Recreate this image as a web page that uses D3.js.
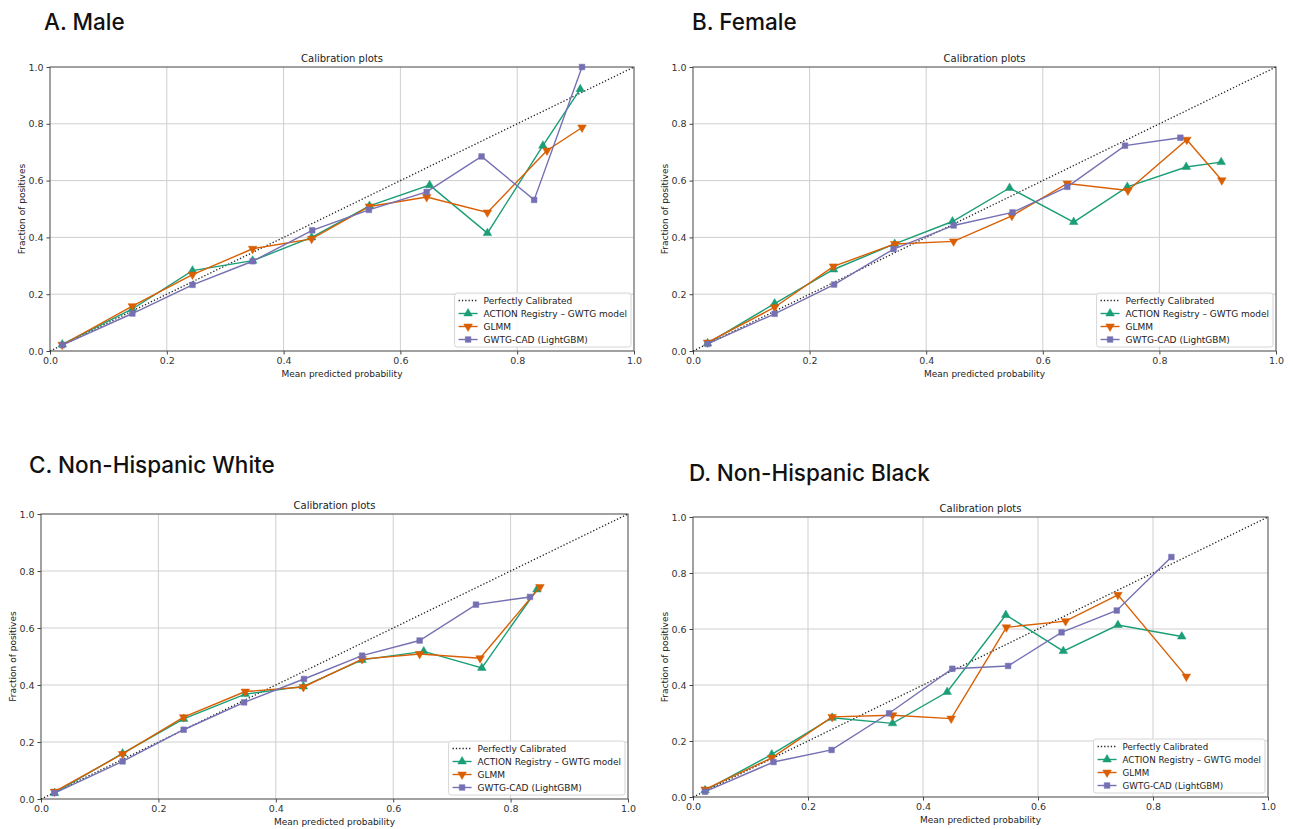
<!DOCTYPE html>
<html>
<head>
<meta charset="utf-8">
<script src="https://cdn.jsdelivr.net/npm/d3@7"></script>
<style>
  html, body { margin: 0; padding: 0; background: #fff; }
  svg { display: block; }
</style>
</head>
<body>
<svg id="chart" width="1293" height="829"></svg>
<script>
// ---------- data ----------
const panelTitles = ["A. Male", "B. Female", "C. Non-Hispanic White", "D. Non-Hispanic Black"];
const seriesNames = ["ACTION Registry – GWTG model", "GLMM", "GWTG-CAD (LightGBM)"];
const refName = "Perfectly Calibrated";
const ticks = [0.0, 0.2, 0.4, 0.6, 0.8, 1.0];

// Panel A: Male  [mean predicted, fraction positives]
const maleAction = [[0.021,0.023],[0.141,0.148],[0.244,0.283],[0.347,0.318],[0.448,0.400],[0.547,0.511],[0.650,0.584],[0.749,0.415],[0.844,0.723],[0.908,0.922]];
const maleGlmm   = [[0.021,0.022],[0.141,0.158],[0.244,0.269],[0.347,0.360],[0.448,0.395],[0.547,0.509],[0.645,0.542],[0.749,0.488],[0.851,0.706],[0.911,0.787]];
const maleGwtg   = [[0.021,0.021],[0.141,0.132],[0.244,0.233],[0.347,0.316],[0.449,0.425],[0.546,0.497],[0.645,0.560],[0.739,0.685],[0.829,0.532],[0.911,1.000]];

// Panel B: Female
const femaleAction = [[0.025,0.027],[0.140,0.167],[0.241,0.287],[0.346,0.377],[0.445,0.456],[0.543,0.574],[0.653,0.454],[0.745,0.578],[0.846,0.648],[0.906,0.665]];
const femaleGlmm   = [[0.025,0.030],[0.140,0.154],[0.241,0.298],[0.346,0.377],[0.447,0.386],[0.547,0.476],[0.642,0.590],[0.746,0.565],[0.847,0.744],[0.907,0.601]];
const femaleGwtg   = [[0.025,0.025],[0.140,0.131],[0.242,0.234],[0.344,0.359],[0.447,0.442],[0.548,0.488],[0.642,0.578],[0.741,0.723],[0.836,0.751]];

// Panel C: Non-Hispanic White
const whiteAction = [[0.023,0.021],[0.139,0.160],[0.243,0.281],[0.348,0.368],[0.447,0.395],[0.547,0.488],[0.652,0.518],[0.751,0.460],[0.845,0.735]];
const whiteGlmm   = [[0.023,0.026],[0.139,0.158],[0.243,0.287],[0.348,0.377],[0.447,0.393],[0.547,0.491],[0.645,0.509],[0.748,0.494],[0.850,0.744]];
const whiteGwtg   = [[0.023,0.021],[0.139,0.132],[0.243,0.243],[0.346,0.339],[0.448,0.421],[0.547,0.503],[0.645,0.556],[0.741,0.682],[0.833,0.709]];

// Panel D: Non-Hispanic Black
const blackAction = [[0.021,0.024],[0.137,0.152],[0.242,0.283],[0.347,0.263],[0.442,0.375],[0.544,0.650],[0.644,0.521],[0.739,0.614],[0.850,0.573]];
const blackGlmm   = [[0.021,0.027],[0.137,0.140],[0.242,0.286],[0.347,0.292],[0.449,0.280],[0.545,0.606],[0.648,0.628],[0.739,0.722],[0.858,0.430]];
const blackGwtg   = [[0.021,0.019],[0.140,0.125],[0.241,0.168],[0.341,0.299],[0.451,0.458],[0.548,0.468],[0.641,0.588],[0.737,0.666],[0.832,0.857]];

const panelData = [
  [maleAction, maleGlmm, maleGwtg],
  [femaleAction, femaleGlmm, femaleGwtg],
  [whiteAction, whiteGlmm, whiteGwtg],
  [blackAction, blackGlmm, blackGwtg]
];

// ---------- styles / layout ----------
const colors = ["#1b9e77", "#d95f02", "#7570b3"];
const markerTypes = ["up", "down", "square"];
const layouts = [
  { left: 50,  right: 634,  top: 67,  bottom: 351, tx: 44,  ty: 30,  lf: 9 },
  { left: 693, right: 1276, top: 67,  bottom: 351, tx: 692, ty: 30,  lf: 9 },
  { left: 41,  right: 628,  top: 514, bottom: 799, tx: 29,  ty: 473, lf: 9 },
  { left: 693, right: 1268, top: 517, bottom: 797, tx: 689, ty: 481, lf: 8.7 }
];
const tickFont = "DejaVu Sans, sans-serif";

const svg = d3.select("#chart");

function marker(sel, type, color) {
  if (type === "square") {
    sel.append("path").attr("d", d3.symbol(d3.symbolSquare, 32)())
      .attr("fill", color).attr("stroke", color).attr("stroke-width", 0.5);
  } else {
    const p = sel.append("path").attr("d", d3.symbol(d3.symbolTriangle, 32)())
      .attr("fill", color).attr("stroke", color).attr("stroke-width", 0.5);
    if (type === "down") p.attr("transform", "rotate(180)");
  }
}

panelTitles.forEach((title, pi) => {
  const L = layouts[pi];
  const x = d3.scaleLinear().domain([0, 1]).range([L.left, L.right]);
  const y = d3.scaleLinear().domain([0, 1]).range([L.bottom, L.top]);
  const g = svg.append("g");

  // panel heading
  g.append("text").attr("x", L.tx).attr("y", L.ty)
    .attr("font-family", "Inter, Roboto, sans-serif").attr("font-size", 22.5)
    .attr("font-weight", 500)
    .attr("fill", "#111").text(title);

  // grid
  const grid = g.append("g");
  grid.selectAll("line.v").data(ticks.slice(1, -1)).join("line")
    .attr("x1", d => x(d)).attr("x2", d => x(d)).attr("y1", L.top).attr("y2", L.bottom)
    .attr("stroke", "#cfcfcf").attr("stroke-width", 1);
  grid.selectAll("line.h").data(ticks.slice(1, -1)).join("line")
    .attr("y1", d => y(d)).attr("y2", d => y(d)).attr("x1", L.left).attr("x2", L.right)
    .attr("stroke", "#cfcfcf").attr("stroke-width", 1);

  // axes
  const xAxis = d3.axisBottom(x).tickValues(ticks).tickFormat(d3.format(".1f")).tickSize(3.5).tickPadding(3);
  const yAxis = d3.axisLeft(y).tickValues(ticks).tickFormat(d3.format(".1f")).tickSize(3.5).tickPadding(3);
  const gx = g.append("g").attr("transform", `translate(0,${L.bottom})`).call(xAxis);
  const gy = g.append("g").attr("transform", `translate(${L.left},0)`).call(yAxis);
  [gx, gy].forEach(a => {
    a.select(".domain").remove();
    a.selectAll(".tick line").attr("stroke", "#444");
    a.selectAll(".tick text").attr("font-family", tickFont).attr("font-size", 9.5).attr("fill", "#333");
  });

  // frame
  g.append("rect").attr("x", L.left).attr("y", L.top)
    .attr("width", L.right - L.left).attr("height", L.bottom - L.top)
    .attr("fill", "none").attr("stroke", "#555").attr("stroke-width", 1.1);

  // chart title and axis labels
  const cx = (L.left + L.right) / 2;
  g.append("text").attr("x", cx).attr("y", L.top - 5).attr("text-anchor", "middle")
    .attr("font-family", tickFont).attr("font-size", 10).attr("fill", "#222").text("Calibration plots");
  g.append("text").attr("x", cx).attr("y", L.bottom + 26).attr("text-anchor", "middle")
    .attr("font-family", tickFont).attr("font-size", 9).attr("fill", "#222").text("Mean predicted probability");
  g.append("text")
    .attr("transform", `translate(${L.left - 25},${(L.top + L.bottom) / 2}) rotate(-90)`)
    .attr("text-anchor", "middle")
    .attr("font-family", tickFont).attr("font-size", 9).attr("fill", "#222").text("Fraction of positives");

  // perfectly calibrated
  const line = d3.line().x(d => x(d[0])).y(d => y(d[1]));
  g.append("path").datum([[0, 0], [1, 1]]).attr("d", line)
    .attr("fill", "none").attr("stroke", "#222").attr("stroke-width", 1.3)
    .attr("stroke-dasharray", "1.3,2");

  // series
  panelData[pi].forEach((pts, si) => {
    g.append("path").datum(pts).attr("d", line)
      .attr("fill", "none").attr("stroke", colors[si]).attr("stroke-width", 1.4);
    const mk = g.selectAll(null).data(pts).join("g")
      .attr("transform", d => `translate(${x(d[0])},${y(d[1])})`);
    mk.each(function () { marker(d3.select(this), markerTypes[si], colors[si]); });
  });

  // legend (lower right), box sized to its text
  const lh = 54;
  const lg = g.append("g");
  const box = lg.append("rect").attr("height", lh).attr("rx", 2.5)
    .attr("fill", "rgba(255,255,255,0.85)").attr("stroke", "#d6d6d6").attr("stroke-width", 1);
  const rows = [refName].concat(seriesNames);
  let maxW = 0;
  rows.forEach((name, ri) => {
    const ry = 7.5 + ri * 13;
    const row = lg.append("g").attr("transform", `translate(0,${ry})`);
    if (ri === 0) {
      row.append("line").attr("x1", 4).attr("x2", 23).attr("y1", 0).attr("y2", 0)
        .attr("stroke", "#222").attr("stroke-width", 1.3).attr("stroke-dasharray", "1.3,2");
    } else {
      const si = ri - 1;
      row.append("line").attr("x1", 4).attr("x2", 23).attr("y1", 0).attr("y2", 0)
        .attr("stroke", colors[si]).attr("stroke-width", 1.4);
      const m = row.append("g").attr("transform", "translate(13.5,0)");
      marker(m, markerTypes[si], colors[si]);
    }
    const t = row.append("text").attr("x", 29).attr("y", 3.3)
      .attr("font-family", tickFont).attr("font-size", L.lf).attr("fill", "#222").text(name);
    maxW = Math.max(maxW, t.node().getComputedTextLength());
  });
  const lw = 29 + maxW + 4;
  box.attr("width", lw);
  lg.attr("transform", `translate(${L.right - 3 - lw},${L.bottom - 4 - lh})`);
});
</script>
</body>
</html>
